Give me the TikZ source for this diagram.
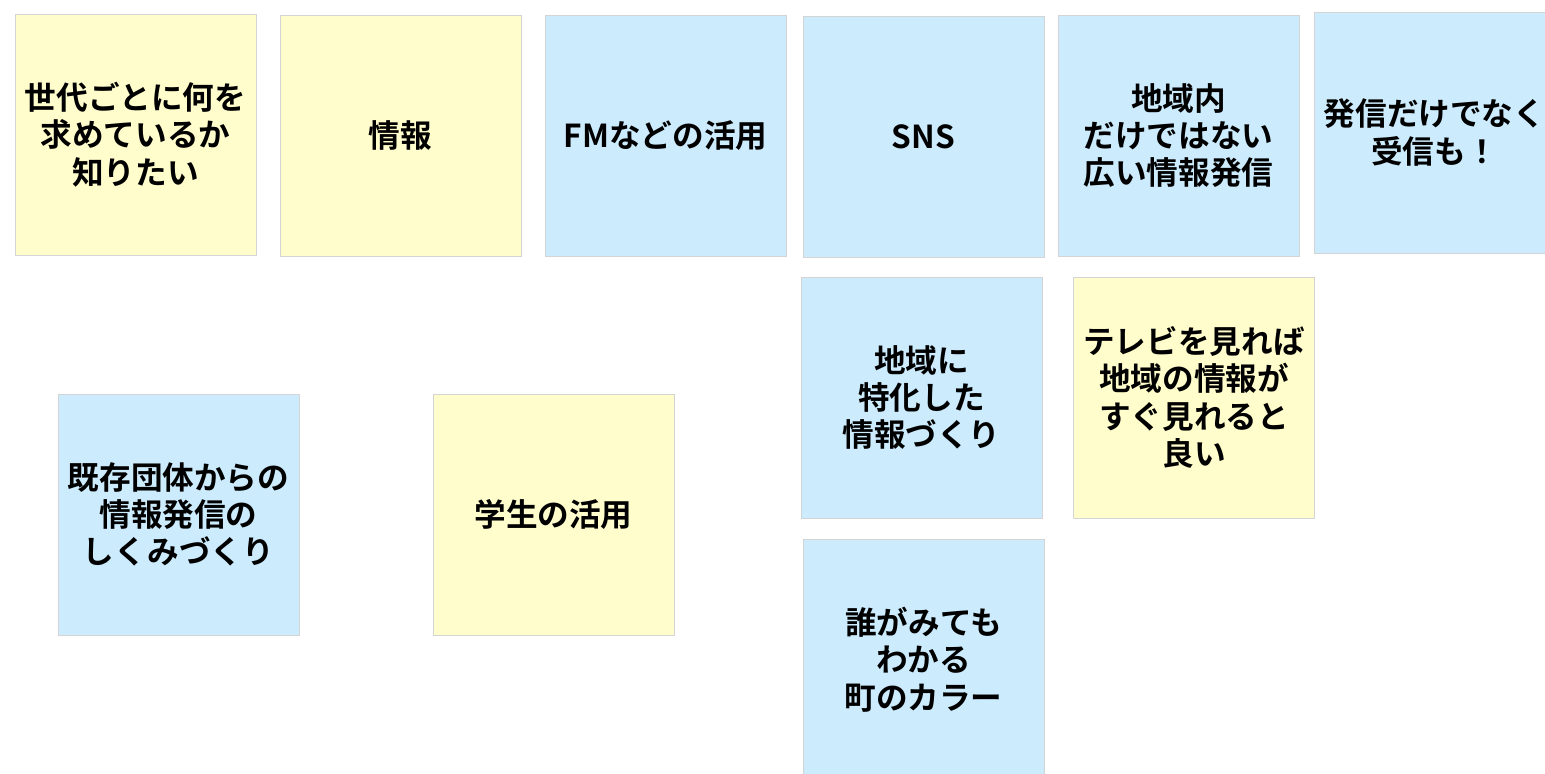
\documentclass[tikz,border=0pt]{standalone}
\usepackage{fontspec}
\usepackage{tikz}
\setmainfont{Noto Sans CJK JP}[BoldFont={* Bold}]
\usetikzlibrary{positioning}
\definecolor{noteyellow}{HTML}{FFFDCC}
\definecolor{noteblue}{HTML}{CCEBFC}
\definecolor{noteedge}{HTML}{D4D4D4}

\begin{document}
\begin{tikzpicture}[x=0.02cm,y=-0.02cm,
    note/.style={draw=noteedge, line width=0.5pt, minimum width=4.82cm, minimum height=4.82cm,
        inner sep=0pt, align=center, text width=4.8cm,
        font=\bfseries\fontsize{18}{21.2}\selectfont},
    yellownote/.style={note, fill=noteyellow},
    bluenote/.style={note, fill=noteblue}]
    \clip (0,0) rectangle (1545,774);
    \useasboundingbox (0,0) rectangle (1545,774);

    % Top row
    \node[yellownote] (sedai) at (135.5,134.5) {世代ごとに何を\\求めているか\\知りたい};
    \node[yellownote] (joho) at (400.5,135.5) {情報};
    \node[bluenote] (fm) at (665.5,135.5) {FMなどの活用};
    \node[bluenote] (sns) at (923.5,136.5) {SNS};
    \node[bluenote] (hiroi) at (1178.5,135.5) {地域内\\だけではない\\広い情報発信};
    \node[bluenote] (jushin) at (1434.5,132.5) {発信だけでなく\\受信も！};

    % Middle
    \node[bluenote] (tokka) at (921.5,397.5) {地域に\\特化した\\情報づくり};
    \node[yellownote] (terebi) at (1194,397.5) {テレビを見れば\\地域の情報が\\すぐ見れると\\良い};

    % Lower
    \node[bluenote] (kizon) at (178.5,514.5) {既存団体からの\\情報発信の\\しくみづくり};
    \node[yellownote] (gakusei) at (553.5,514.5) {学生の活用};
    \node[bluenote] (color) at (923.5,659.5) {誰がみても\\わかる\\町のカラー};
\end{tikzpicture}
\end{document}
